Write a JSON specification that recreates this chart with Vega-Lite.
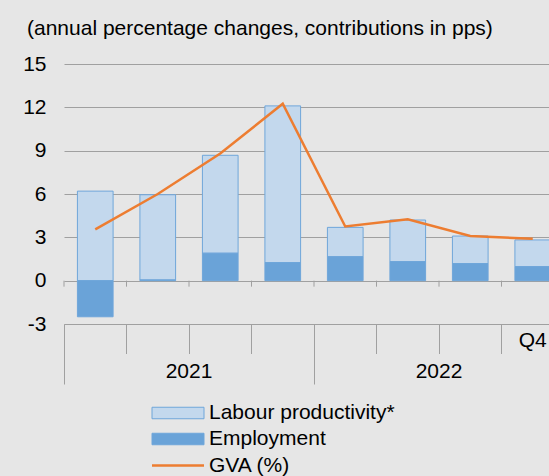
{
  "$schema": "https://vega.github.io/schema/vega-lite/v6.json",
  "autosize": {"type": "none"},
  "width": 485,
  "height": 260,
  "padding": {"left": 64, "top": 64, "right": 0, "bottom": 152},
  "background": "#e6e6e6",
  "title": {
    "text": "(annual percentage changes, contributions in pps)",
    "anchor": "start",
    "frame": "group",
    "dx": -37,
    "font": "Liberation Sans",
    "fontSize": 21,
    "fontWeight": "normal",
    "color": "#000000",
    "baseline": "alphabetic",
    "offset": -3
  },
  "datasets": {
    "bars": [
      {"q": "2021 Q1", "series": "Labour productivity*", "value": 6.2},
      {"q": "2021 Q1", "series": "Employment", "value": -2.5},
      {"q": "2021 Q2", "series": "Labour productivity*", "value": 5.9},
      {"q": "2021 Q2", "series": "Employment", "value": 0.05},
      {"q": "2021 Q3", "series": "Labour productivity*", "value": 6.78},
      {"q": "2021 Q3", "series": "Employment", "value": 1.9},
      {"q": "2021 Q4", "series": "Labour productivity*", "value": 10.85},
      {"q": "2021 Q4", "series": "Employment", "value": 1.25},
      {"q": "2022 Q1", "series": "Labour productivity*", "value": 2.03},
      {"q": "2022 Q1", "series": "Employment", "value": 1.66},
      {"q": "2022 Q2", "series": "Labour productivity*", "value": 2.88},
      {"q": "2022 Q2", "series": "Employment", "value": 1.32},
      {"q": "2022 Q3", "series": "Labour productivity*", "value": 1.91},
      {"q": "2022 Q3", "series": "Employment", "value": 1.18},
      {"q": "2022 Q4", "series": "Labour productivity*", "value": 1.85},
      {"q": "2022 Q4", "series": "Employment", "value": 0.97}
    ],
    "gva": [
      {"q": "2021 Q1", "gva": 3.55},
      {"q": "2021 Q2", "gva": 6.0},
      {"q": "2021 Q3", "gva": 8.8},
      {"q": "2021 Q4", "gva": 12.25},
      {"q": "2022 Q1", "gva": 3.75},
      {"q": "2022 Q2", "gva": 4.25},
      {"q": "2022 Q3", "gva": 3.1},
      {"q": "2022 Q4", "gva": 2.9}
    ]
  },
  "layer": [
    {
      "data": {"name": "bars"},
      "mark": {"type": "bar", "width": {"band": 0.571}, "stroke": "#6fa6da", "strokeWidth": 1},
      "encoding": {
        "x": {
          "field": "q", "type": "ordinal",
          "scale": {"type": "band", "domain": ["2021 Q1","2021 Q2","2021 Q3","2021 Q4","2022 Q1","2022 Q2","2022 Q3","2022 Q4"], "range": [0, 500], "paddingInner": 0, "paddingOuter": 0},
          "axis": null
        },
        "y": {
          "field": "value", "type": "quantitative", "stack": "zero",
          "scale": {"domain": [-3, 15], "nice": false, "zero": true},
          "axis": {"values": [-3, 0, 3, 6, 9, 12, 15], "labelExpr": "toString(datum.value)", "title": null, "grid": true, "gridColor": "#a0a0a0", "gridWidth": 1, "domain": false, "ticks": false, "labelPadding": 18, "labelFont": "Liberation Sans", "labelFontSize": 21, "labelColor": "#000000"}
        },
        "color": {
          "field": "series", "type": "nominal",
          "scale": {"domain": ["Labour productivity*", "Employment"], "range": ["#c3d8ed", "#6aa3d8"]},
          "legend": {
            "title": null, "orient": "none", "legendX": 103.5, "legendY": 338.5,
            "padding": 0, "rowPadding": 4,
            "symbolType": "M-5.2,-1.15H5.2V1.15H-5.2Z", "symbolSize": 100,
            "symbolStrokeColor": "#6fa6da", "symbolStrokeWidth": 1,
            "labelOffset": 20.5, "labelFont": "Liberation Sans", "labelFontSize": 21, "labelColor": "#000000", "labelLimit": 400
          }
        },
        "order": {"field": "series", "sort": "ascending"}
      }
    },
    {
      "data": {"name": "gva"},
      "mark": {"type": "line", "strokeWidth": 2.5},
      "encoding": {
        "x": {
          "field": "q", "type": "ordinal",
          "scale": {"type": "band", "domain": ["2021 Q1","2021 Q2","2021 Q3","2021 Q4","2022 Q1","2022 Q2","2022 Q3","2022 Q4"], "range": [0, 500], "paddingInner": 0, "paddingOuter": 0},
          "axis": {
            "orient": "bottom", "title": null, "bandPosition": 0, "domain": false, "grid": false,
            "ticks": true, "tickSize": 29.5, "tickColor": "#a0a0a0", "tickWidth": 1,
            "labelExpr": "datum.value == '2022 Q4' ? 'Q4' : ''",
            "labelOffset": 0, "labelPadding": -23.9, "labelAngle": 0,
            "labelOverlap": false, "labelBound": false, "labelFlush": false,
            "labelFont": "Liberation Sans", "labelFontSize": 21, "labelColor": "#000000"
          }
        },
        "y": {
          "field": "gva", "type": "quantitative",
          "scale": {"domain": [-3, 15], "nice": false, "zero": true},
          "axis": {"values": [-3, 0, 3, 6, 9, 12, 15], "labelExpr": "toString(datum.value)", "title": null, "grid": true, "gridColor": "#a0a0a0", "gridWidth": 1, "domain": false, "ticks": false, "labelPadding": 18, "labelFont": "Liberation Sans", "labelFontSize": 21, "labelColor": "#000000"}
        },
        "stroke": {
          "datum": "GVA (%)",
          "scale": {"range": ["#ed7d31"]},
          "legend": {
            "title": null, "orient": "none", "legendX": 103.5, "legendY": 391,
            "padding": 0,
            "symbolType": "M-5.2,0H5.2", "symbolSize": 100, "symbolStrokeWidth": 2.5,
            "labelOffset": 20.5, "labelFont": "Liberation Sans", "labelFontSize": 21, "labelColor": "#000000", "labelLimit": 400
          }
        }
      }
    },
    {
      "data": {"name": "gva"},
      "mark": {"type": "rule", "color": "#a0a0a0", "strokeWidth": 1},
      "encoding": {
        "x": {
          "field": "q", "type": "ordinal", "bandPosition": 0,
          "scale": {"type": "band", "domain": ["2021 Q1","2021 Q2","2021 Q3","2021 Q4","2022 Q1","2022 Q2","2022 Q3","2022 Q4"], "range": [0, 500], "paddingInner": 0, "paddingOuter": 0},
          "axis": {
            "orient": "bottom", "title": null, "values": ["2021 Q1", "2022 Q1"], "bandPosition": 0, "domain": false, "grid": false,
            "ticks": true, "tickSize": 60, "tickColor": "#a0a0a0", "tickWidth": 1,
            "labelExpr": "slice(datum.value, 0, 4)",
            "labelOffset": 93.75, "labelPadding": -23.3, "labelAngle": 0,
            "labelOverlap": false, "labelBound": false, "labelFlush": false,
            "labelFont": "Liberation Sans", "labelFontSize": 21, "labelColor": "#000000"
          }
        },
        "y": {"datum": 0, "scale": {"domain": [-3, 15], "nice": false, "zero": true}},
        "y2": {"datum": -0.415}
      }
    }
  ],
  "resolve": {"axis": {"x": "independent"}},
  "config": {"view": {"stroke": null}}
}
